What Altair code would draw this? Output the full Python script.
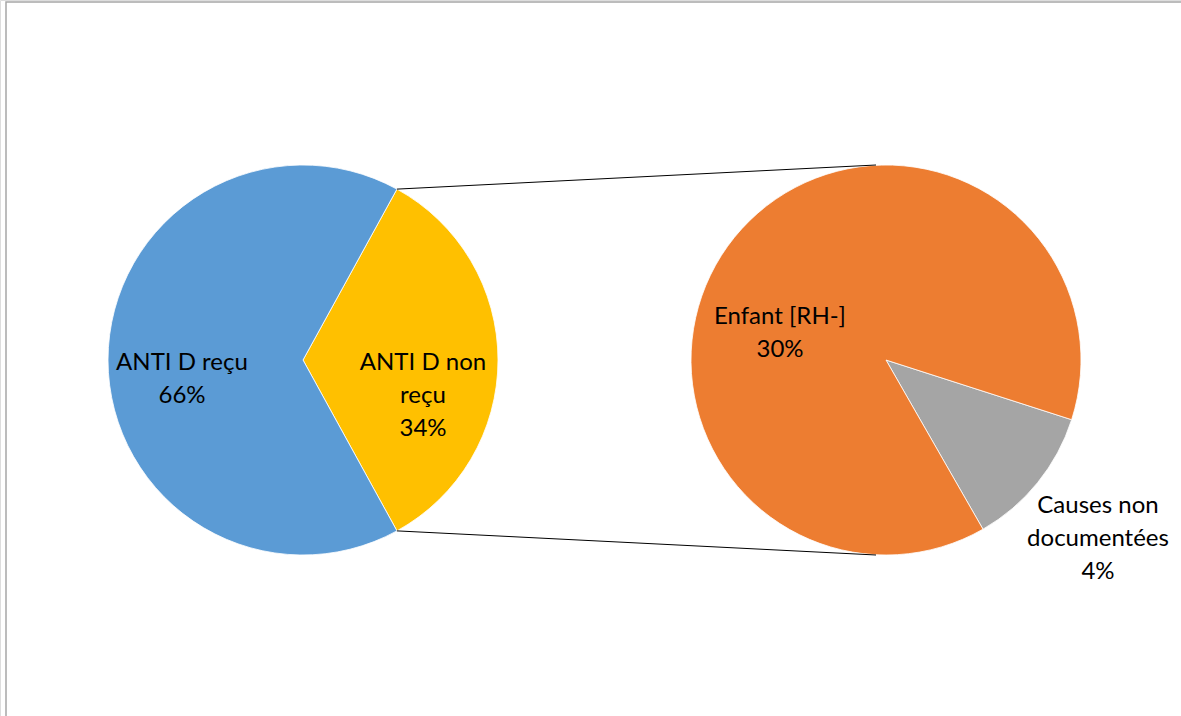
import math
import altair as alt
import pandas as pd

# --- data -------------------------------------------------------------
main_categories = ["ANTI D non reçu", "ANTI D reçu"]
main_values = [34, 66]

detail_categories = ["Causes non documentées", "Enfant [RH-]"]
detail_values = [4, 30]

label_texts = {
    "ANTI D reçu": "ANTI D reçu\n66%",
    "ANTI D non reçu": "ANTI D non\nreçu\n34%",
    "Enfant [RH-]": "Enfant [RH-]\n30%",
    "Causes non documentées": "Causes non\ndocumentées\n4%",
}

colors = {
    "ANTI D reçu": "#5B9BD5",
    "ANTI D non reçu": "#FFC000",
    "Enfant [RH-]": "#ED7D31",
    "Causes non documentées": "#A5A5A5",
}

# --- layout -----------------------------------------------------------
W, H = 1181, 716
R = 195
CX1, CY1 = 303, 360          # main pie centre
CX2, CY2 = 886, 360          # secondary pie centre
DETAIL_MID = math.radians(129)   # direction of the small slice in the secondary pie
FONT = "Lato"
FONT_SIZE = 24
LINE_H = 33

# label anchors (first-line baseline), relative to their pie centre
label_offsets = {
    "ANTI D reçu": (-121, 10),
    "ANTI D non reçu": (120, 10),
    "Enfant [RH-]": (-106, -36),
    "Causes non documentées": (212, 153),
}
label_pie = {
    "ANTI D reçu": (CX1, CY1),
    "ANTI D non reçu": (CX1, CY1),
    "Enfant [RH-]": (CX2, CY2),
    "Causes non documentées": (CX2, CY2),
}

# main pie: the split-off slice is centred on the right-hand side
share = main_values[0] / sum(main_values)
main_start = math.pi / 2 - share * math.pi
# secondary pie: small slice centred on DETAIL_MID
dshare = detail_values[0] / sum(detail_values)
detail_start = DETAIL_MID - dshare * math.pi

all_cats = list(colors.keys())
color_scale = alt.Scale(domain=all_cats, range=[colors[c] for c in all_cats])

main_df = pd.DataFrame({"cat": main_categories, "value": main_values,
                        "order": list(range(len(main_values)))})
detail_df = pd.DataFrame({"cat": detail_categories, "value": detail_values,
                          "order": list(range(len(detail_values)))})

main_pie = alt.Chart(main_df).mark_arc(outerRadius=R, stroke="white", strokeWidth=0.8).encode(
    theta=alt.Theta("value:Q", stack=True,
                    scale=alt.Scale(range=[main_start, main_start + 2 * math.pi])),
    color=alt.Color("cat:N", scale=color_scale, legend=None),
    order=alt.Order("order:Q"),
    x=alt.value(CX1),
    y=alt.value(CY1),
)

detail_pie = alt.Chart(detail_df).mark_arc(outerRadius=R, stroke="white", strokeWidth=0.8).encode(
    theta=alt.Theta("value:Q", stack=True,
                    scale=alt.Scale(range=[detail_start, detail_start + 2 * math.pi])),
    color=alt.Color("cat:N", scale=color_scale, legend=None),
    order=alt.Order("order:Q"),
    x=alt.value(CX2),
    y=alt.value(CY2),
)

# connector lines from the split slice edges to the secondary pie
a_top = main_start
a_bot = main_start + share * 2 * math.pi
conn_df = pd.DataFrame({
    "x": [CX1 + R * math.sin(a_top), CX1 + R * math.sin(a_bot)],
    "y": [CY1 - R * math.cos(a_top), CY1 - R * math.cos(a_bot)],
    "x2": [CX2 - 10, CX2 - 10],
    "y2": [CY2 - R, CY2 + R],
})
connectors = alt.Chart(conn_df).mark_rule(color="black", strokeWidth=1).encode(
    x=alt.X("x:Q", scale=None), y=alt.Y("y:Q", scale=None),
    x2="x2:Q", y2="y2:Q",
)

lab_df = pd.DataFrame({
    "text": [label_texts[c] for c in all_cats],
    "x": [label_pie[c][0] + label_offsets[c][0] for c in all_cats],
    "y": [label_pie[c][1] + label_offsets[c][1] for c in all_cats],
})
labels = alt.Chart(lab_df).mark_text(
    font=FONT, fontSize=FONT_SIZE, color="black", align="center",
    baseline="alphabetic", lineBreak="\n", lineHeight=LINE_H,
).encode(
    x=alt.X("x:Q", scale=None), y=alt.Y("y:Q", scale=None), text="text:N",
)

# chart frame: only its left and top edges fall inside the page
frame = alt.Chart(pd.DataFrame({"k": [0]})).mark_rect(
    fill="white", stroke="#a6a6a6", strokeWidth=1.5,
).encode(x=alt.value(6), x2=alt.value(W + 200), y=alt.value(2), y2=alt.value(H + 200))

chart = alt.layer(frame, main_pie, detail_pie, connectors, labels).resolve_scale(
    theta="independent", x="independent", y="independent",
).properties(
    width=W, height=H, padding=0, autosize=alt.AutoSizeParams(type="none"),
).configure_view(stroke=None).configure(background="white")

chart.save("out.html", embed_options={"renderer": "svg", "actions": False})
